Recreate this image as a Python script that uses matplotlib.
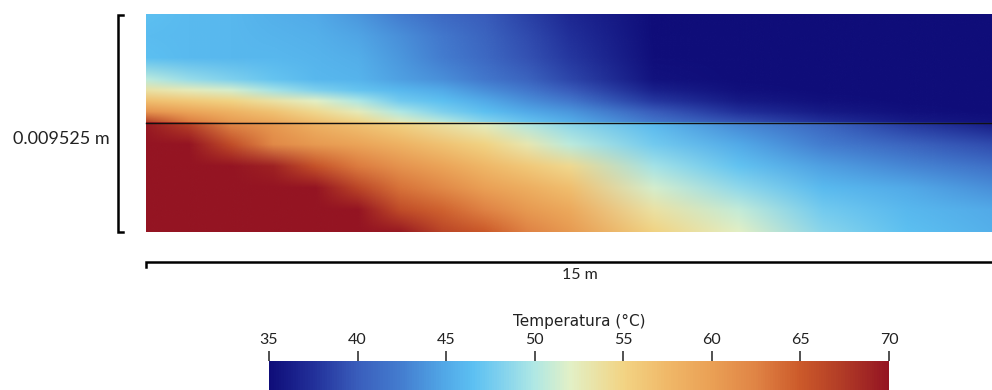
import numpy as np
import matplotlib.pyplot as plt
from matplotlib.image import NonUniformImage
from matplotlib.colors import LinearSegmentedColormap, Normalize
from matplotlib.cm import ScalarMappable

plt.rcParams['font.family'] = ['Lato', 'DejaVu Sans']

# posición a lo largo del tubo (m)
x_m = [0.0, 0.75, 1.5, 2.25, 3.0, 3.75, 4.5, 5.25, 6.0, 6.75, 7.5, 9.0, 10.5, 12.0, 13.5, 15.0]

# mitad superior: profundidad relativa (0 = arriba, 0.5 = pared) y temperatura (°C)
y_sup = [0.00, 0.10, 0.20, 0.30, 0.35, 0.40, 0.45, 0.50]
temp_sup = [
    [46.5, 46.2, 46.0, 45.5, 45.0, 44.0, 42.5, 41.0, 40.0, 38.5, 37.0, 35.0, 35.0, 35.0, 35.0, 35.0],
    [46.3, 46.1, 46.0, 45.8, 45.5, 44.8, 43.5, 42.0, 40.5, 39.0, 37.5, 35.0, 35.0, 35.0, 35.0, 35.0],
    [46.5, 46.2, 46.0, 46.0, 45.8, 45.3, 44.0, 42.5, 41.0, 39.5, 38.0, 35.2, 35.0, 35.0, 35.0, 35.0],
    [50.5, 49.0, 48.0, 47.0, 46.0, 45.7, 44.5, 43.5, 42.0, 40.5, 38.8, 35.5, 35.0, 35.0, 35.0, 35.0],
    [53.5, 52.5, 51.5, 49.5, 48.0, 47.0, 46.0, 45.0, 43.5, 42.0, 40.0, 36.5, 35.3, 35.0, 35.0, 35.0],
    [57.0, 56.0, 55.0, 53.5, 52.0, 50.0, 47.5, 46.5, 45.0, 43.5, 42.0, 38.0, 36.0, 35.3, 35.0, 35.0],
    [61.0, 59.5, 58.0, 56.5, 54.5, 52.5, 50.0, 48.0, 46.5, 45.0, 44.0, 40.0, 37.5, 36.0, 35.3, 35.0],
    [67.0, 63.0, 60.5, 59.0, 57.0, 55.0, 52.5, 50.5, 48.5, 47.0, 45.5, 42.0, 39.5, 37.5, 36.0, 35.5],
]

# mitad inferior
y_inf = [0.50, 0.60, 0.70, 0.80, 0.90, 1.00]
temp_inf = [
    [69.5, 66.5, 62.0, 60.5, 58.0, 56.5, 55.0, 53.5, 52.0, 50.0, 48.5, 46.0, 43.0, 40.5, 38.0, 36.0],
    [70.0, 70.0, 66.0, 62.0, 60.5, 59.5, 58.0, 56.5, 55.0, 53.0, 50.5, 47.5, 45.0, 42.5, 40.5, 39.0],
    [70.0, 70.0, 70.0, 69.0, 65.5, 63.0, 61.0, 59.5, 57.5, 56.0, 54.5, 49.5, 46.8, 44.5, 43.0, 41.5],
    [70.0, 70.0, 70.0, 70.0, 70.0, 66.5, 63.5, 62.0, 60.0, 58.5, 57.0, 51.5, 48.8, 46.2, 45.0, 43.5],
    [70.0, 70.0, 70.0, 70.0, 70.0, 70.0, 66.0, 64.5, 62.5, 60.5, 59.0, 53.5, 50.8, 47.5, 46.0, 45.0],
    [70.0, 70.0, 70.0, 70.0, 70.0, 70.0, 69.5, 66.5, 65.0, 62.5, 60.5, 55.0, 52.0, 48.5, 46.5, 45.5],
]

cmap_vals = [35, 37.5, 40, 42.5, 45, 46.5, 48, 50, 52, 55, 57.5, 60, 62.5, 65, 67.5, 70]
cmap_cols = ['#0f0d79', '#22309a', '#3a5ebc', '#447ed0', '#52aae8', '#5cc0f2', '#7ed0ee',
             '#b0e8e4', '#e2f0c6', '#f2d484', '#f0b868', '#eaa055', '#e08445', '#cc5a2a',
             '#b03a26', '#941422']
cbar_ticks = [35, 40, 45, 50, 55, 60, 65, 70]
vmin, vmax = 35, 70

pos = [(v - vmin) / (vmax - vmin) for v in cmap_vals]
cmap = LinearSegmentedColormap.from_list('temp', list(zip(pos, cmap_cols)))
norm = Normalize(vmin, vmax)

W, H = 992, 390
fig = plt.figure(figsize=(W / 100, H / 100), dpi=100)


def mitad(rect, y_rows, t_rows):
    a = fig.add_axes(rect)
    im = NonUniformImage(a, interpolation='bilinear', cmap=cmap, norm=norm)
    im.set_data(np.array(x_m), np.array(y_rows), np.array(t_rows))
    a.add_image(im)
    a.set_xlim(0, 15)
    a.set_ylim(y_rows[-1], y_rows[0])
    a.axis('off')
    return a


# campo de temperatura: mitad superior e inferior separadas por la pared
ax_sup = mitad([146 / W, (H - 123) / H, 846 / W, 108 / H], y_sup, temp_sup)
ax_inf = mitad([146 / W, (H - 232) / H, 846 / W, 109 / H], y_inf, temp_inf)
ax_inf.axhline(0.5, color='#111111', lw=1.0, clip_on=False)

# barras de escala (en píxeles)
ov = fig.add_axes([0, 0, 1, 1], zorder=-1)
ov.set_xlim(0, W)
ov.set_ylim(H, 0)
ov.axis('off')
ov.plot([123, 118, 118, 123], [15, 15, 232, 232], color='black', lw=1.8, solid_joinstyle='miter')
ov.text(110, 139, '0.009525 m', ha='right', va='center', fontsize=13, color='#222222')
ov.plot([146, 146, W + 5], [267, 262, 262], color='black', lw=1.8, solid_joinstyle='miter')
ov.text(580, 275, '15 m', ha='center', va='center', fontsize=11.5, color='#222222')

# barra de colores
cax = fig.add_axes([269 / W, 0, 620 / W, 29 / H])
cb = fig.colorbar(ScalarMappable(norm=norm, cmap=cmap), cax=cax, orientation='horizontal',
                  ticks=cbar_ticks)
cb.outline.set_visible(False)
cax.xaxis.set_ticks_position('top')
cax.xaxis.set_label_position('top')
cax.tick_params(axis='x', direction='out', length=7.5, width=1.2, color='#333333',
                labelsize=11.5, labelcolor='#222222', pad=2.5)
cb.set_label('Temperatura (°C)', fontsize=11, color='#222222', labelpad=5,
             family='DejaVu Sans')

fig.savefig('out.png', dpi=100)
